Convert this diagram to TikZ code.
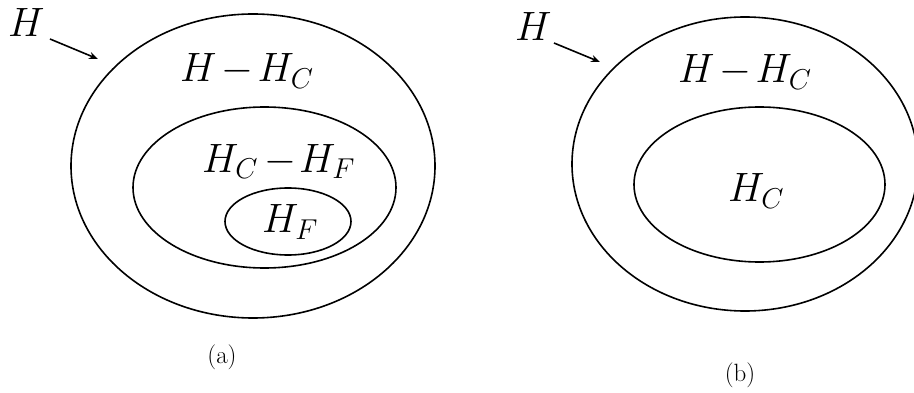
\RequirePackage{fix-cm}
\documentclass[tikz,border=0pt]{standalone}
\usetikzlibrary{shapes.geometric,arrows.meta}
\begin{document}
\begin{tikzpicture}[x=1pt,y=-1pt,
  setline/.style={draw,ellipse,line width=1.6pt,inner sep=0pt},
  lbl/.style={inner sep=0pt,anchor=base west,font=\fontsize{41}{48}\selectfont},
  captxt/.style={inner sep=0pt,font=\fontsize{25}{28}\selectfont},
  pointer/.style={line width=1.6pt,-{Stealth[length=9pt,width=7pt]}}]
\useasboundingbox (0,0) rectangle (914,393);
% panel (a)
\node[setline,minimum width=364pt,minimum height=304pt] (aout) at (253,166) {};
\node[setline,minimum width=263pt,minimum height=161pt] (ain) at (264.5,187.5) {};
\node[setline,minimum width=126pt,minimum height=67pt] (af) at (288,221.5) {};
\node[lbl] (aH) at (8,36.7) {$H$};
\node[lbl] (aHHC) at (180,82) {$H\mkern-2mu-\mkern-2mu H_C$};
\node[lbl] (aHCHF) at (202,172.7) {$H_C\mkern-1mu-\mkern-3mu H_F$};
\node[lbl] (aHF) at (262,233) {$H_F$};
\coordinate (aS) at (50,39);
\coordinate (aE) at (98,59);
\draw[pointer] (aS) -- (aE);
\node[captxt] (acap) at (222,357) {(a)};
% panel (b)
\node[setline,minimum width=346pt,minimum height=294pt] (bout) at (745,164) {};
\node[setline,minimum width=251pt,minimum height=155pt] (bin) at (759.5,184.5) {};
\node[lbl] (bH) at (515,40.7) {$H$};
\node[lbl] (bHHC) at (678,83) {$H\mkern-2mu-\mkern-2mu H_C$};
\node[lbl] (bHC) at (728,202) {$H_C$};
\coordinate (bS) at (554,43);
\coordinate (bE) at (600,62);
\draw[pointer] (bS) -- (bE);
\node[captxt] (bcap) at (740,375) {(b)};
\end{tikzpicture}
\end{document}
